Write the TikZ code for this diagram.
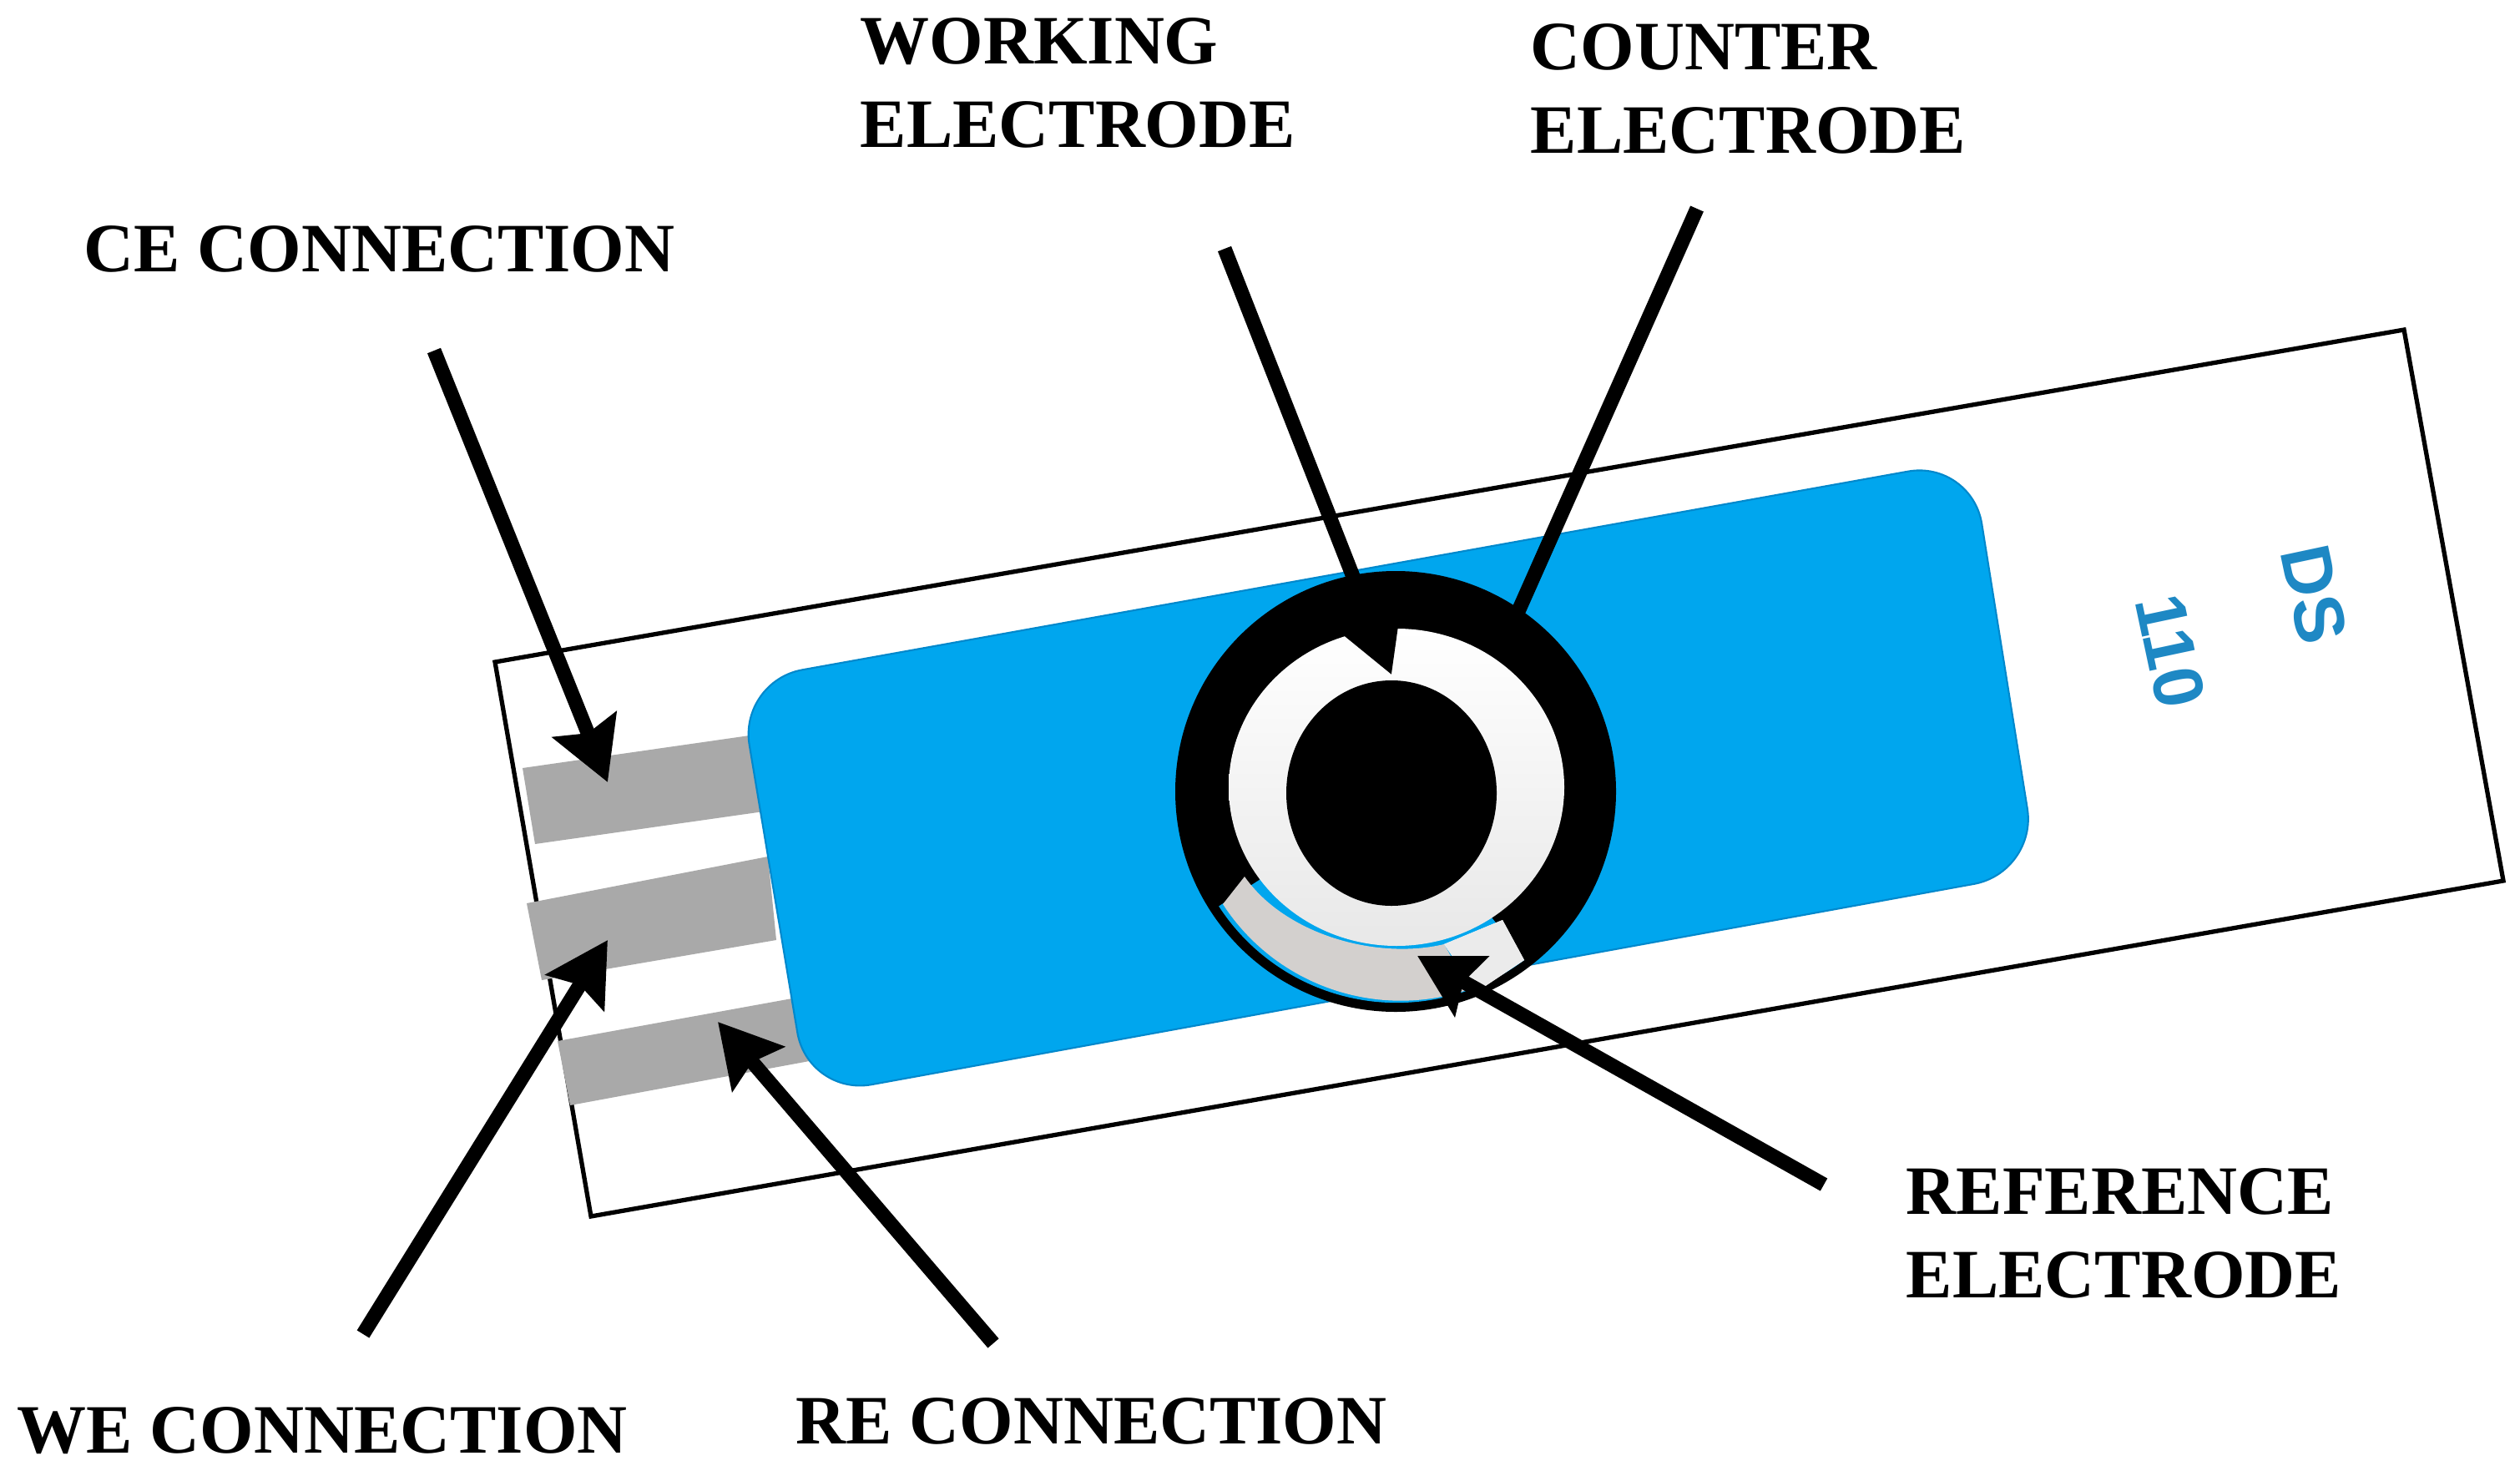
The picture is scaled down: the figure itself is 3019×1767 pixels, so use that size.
\documentclass[tikz,border=0pt]{standalone}
\usepackage{fontspec}
\setmainfont{Liberation Serif}
\newfontfamily\dsfont{Liberation Sans}
\usetikzlibrary{arrows.meta}
\definecolor{bluepad}{HTML}{00A6EE}
\definecolor{blueedge}{HTML}{0088CC}
\definecolor{padgray}{HTML}{A9A9A9}
\definecolor{crescent}{HTML}{D3D0CE}
\definecolor{dsblue}{HTML}{1E88C4}
\tikzset{
  strip/.style={fill=padgray,draw=none},
  lab/.style={font=\fontsize{23.6}{28.45}\selectfont\bfseries,align=left,anchor=west,inner sep=0pt,text=black},
  dsl/.style={font=\fontsize{24}{24}\dsfont\bfseries,text=dsblue,rotate=-78,inner sep=0pt},
  pointer/.style={line width=4.9pt,black,-{Stealth[length=21pt,width=23pt,inset=3pt]}},
  plainpointer/.style={line width=4.9pt,black}
}
\begin{document}
\begin{tikzpicture}[x=0.01cm,y=-0.01cm]
\useasboundingbox (0,0) rectangle (3019,1767);
\fill[white] (0,0) rectangle (3019,1767);
% strip
\draw[black,line width=1.5pt,line join=miter] (593,793) -- (2880,395) -- (2999,1055) -- (708,1457) -- cycle;
% contacts
\fill[strip] (626,920) -- (905,880) -- (915,972) -- (641,1011) -- cycle;
\fill[strip] (631,1082) -- (920,1026) -- (930,1126) -- (649,1174) -- cycle;
\fill[strip] (668,1247) -- (960,1194) -- (975,1270) -- (683,1324) -- cycle;
% blue pad
\draw[fill=bluepad,draw=blueedge,line width=0.6pt,rounded corners=22pt] (885,816) -- (2362,551) -- (2441,1045) -- (968,1313) -- cycle;
% electrodes
\fill[black] (1672,948) circle [radius=264];
\fill[bluepad] (1672,948) -- (1826,1150) arc[start angle=53,end angle=147,radius=254] -- cycle;
\fill[crescent] (1465,1083) arc[start angle=147,end angle=71,radius=254] -- (1730,1131) .. controls (1650,1150) and (1540,1120) .. (1491,1050) -- cycle;
\fill[white] (1800,1102) -- (1826,1150) -- (1769,1188) -- (1730,1131) -- cycle;
\shade[top color=white,middle color=white,bottom color=black!9] (1673,943) ellipse [x radius=201,y radius=190];
\fill[white!92!black] (1800,1102) -- (1826,1150) -- (1769,1188) -- (1730,1131) -- cycle;
\fill[black] (1667,950) ellipse [x radius=126,y radius=135];
% labels
\node[lab] (work) at (1030,99) {WORKING\\ELECTRODE};
\node[lab] (count) at (1833,106) {COUNTER\\ELECTRODE};
\node[lab] (ceconn) at (100,298) {CE CONNECTION};
\node[lab] (refel) at (2283,1477) {REFERENCE\\ELECTRODE};
\node[lab] (reconn) at (953,1702) {RE CONNECTION};
\node[lab] (weconn) at (20,1714) {WE CONNECTION};
\node[dsl] (ds) at (2772,712) {DS};
\node[dsl] (num) at (2600,780) {110};
% connector ends
\coordinate (cetail) at (520,420);
\coordinate (cetip) at (728,937);
\coordinate (wetail) at (435,1598);
\coordinate (wetip) at (728,1126);
\coordinate (retail) at (1190,1609);
\coordinate (retip) at (860,1224);
\coordinate (reftail) at (2185,1419);
\coordinate (reftip) at (1698,1145);
\coordinate (worktail) at (1467,298);
\coordinate (worktip) at (1667,808);
\coordinate (counttail) at (2033,250);
\coordinate (countend) at (1819,732);
\draw[pointer] (cetail) -- (cetip);
\draw[pointer] (wetail) -- (wetip);
\draw[pointer] (retail) -- (retip);
\draw[pointer] (reftail) -- (reftip);
\draw[pointer] (worktail) -- (worktip);
\draw[plainpointer] (counttail) -- (countend);
\end{tikzpicture}
\end{document}
